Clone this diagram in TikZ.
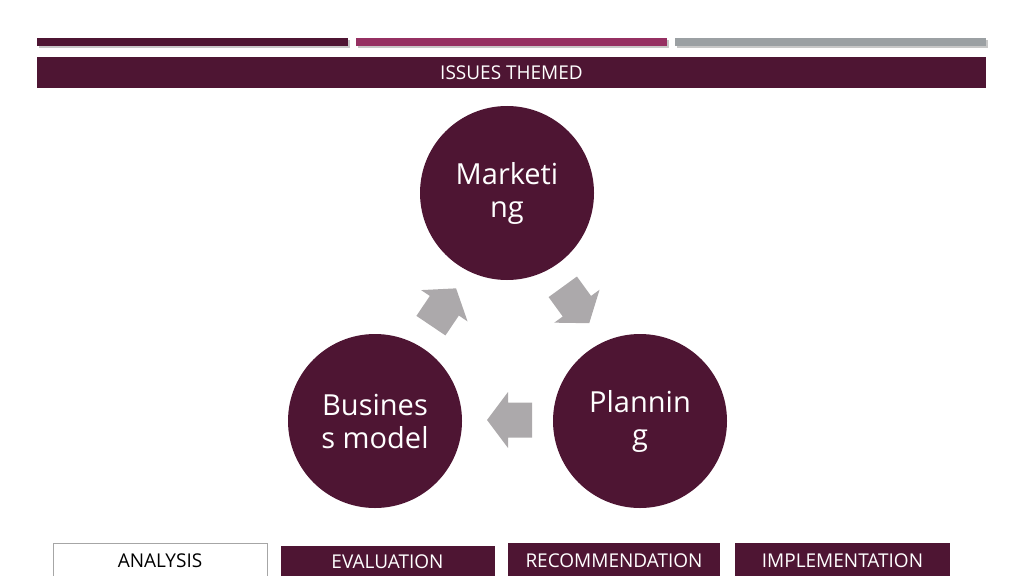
\documentclass[tikz,border=0pt]{standalone}
\usepackage{fontspec}
\setmainfont{Open Sans}
\definecolor{plum}{HTML}{4E1533}
\definecolor{berry}{HTML}{953062}
\definecolor{steel}{HTML}{9BA0A3}
\definecolor{flowgray}{HTML}{ACA9AB}
\begin{document}
\begin{tikzpicture}[x=1pt,y=-1pt,
    issue/.style={circle,fill=plum,minimum size=174pt,inner sep=0pt,text=white,
      align=center,font=\fontsize{29}{33}\selectfont},
    stage/.style={fill=plum,text=white,minimum width=214pt,minimum height=35pt,
      inner sep=0pt,font=\fontsize{19}{21}\selectfont},
    flow/.style={fill=flowgray}]
  \useasboundingbox (0,0) rectangle (1024,575);
  % top bars
  \foreach \x/\c in {37/plum,356/berry,675/steel} {
    \fill[black!22] (\x+1.5,40) rectangle (\x+312.5,48.5);
    \fill[\c] (\x,38) rectangle (\x+311,46);
  }
  \node[fill=plum,text=white,minimum width=949pt,minimum height=31pt,inner sep=0pt,
    font=\fontsize{19}{21}\selectfont] (banner) at (511.5,72.5) {ISSUES THEMED};
  % cycle
  \draw
    (507,193) node[issue] (marketing){Marketi\\ng}
    (640,421) node[issue] (planning){Plannin\\g}
    (375,421) node[issue] (business){Busines\\s model};
  \foreach \cx/\cy/\a/\n in {443.5/307/56/up, 576/305/-54/down, 509.5/420/180/back} {
    \begin{scope}[shift={(\cx,\cy)},rotate=\a]
      \fill[flow] (-22.5,-17.5) -- (1.5,-17.5) -- (1.5,-28) -- (22.5,0)
        -- (1.5,28) -- (1.5,17.5) -- (-22.5,17.5) -- cycle;
    \end{scope}
  }
  % stages
  \node[stage,fill=white,text=black,draw=black!35] (analysis) at (160,560.5) {ANALYSIS};
  \node[stage,minimum height=31pt] (evaluation) at (387.5,561.5) {EVALUATION};
  \node[stage,minimum width=212pt] (recommendation) at (614,560.5) {RECOMMENDATION};
  \node[stage,minimum width=215pt] (implementation) at (842.5,560.5) {IMPLEMENTATION};
\end{tikzpicture}
\end{document}
